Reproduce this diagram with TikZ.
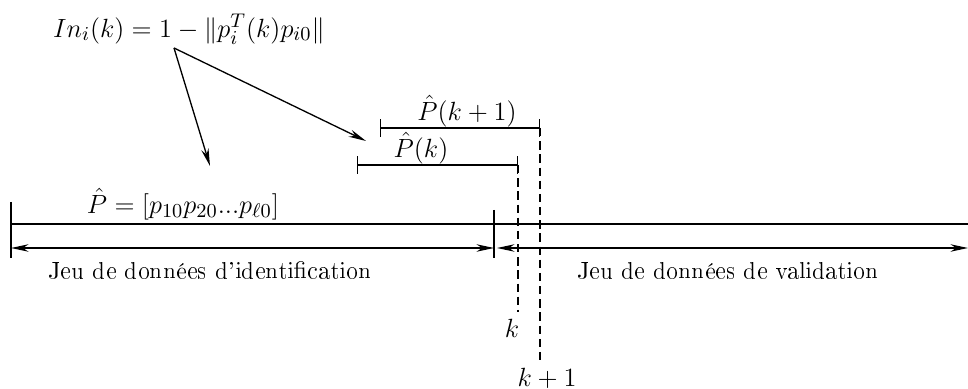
\documentclass[tikz,border=0pt]{standalone}
\usepackage[T1]{fontenc}
\usetikzlibrary{arrows.meta}

\begin{document}
\begin{tikzpicture}[x=0.016cm, y=-0.016cm,
  every node/.style={font=\fontsize{11.2}{13}\selectfont, inner sep=1pt},
  formule/.style={font=\fontsize{12.4}{14}\selectfont},
  pointe/.tip={Stealth[length=8pt,width=3.4pt]},
  fleche/.style={-pointe, line width=0.6pt},
  double/.style={pointe-pointe, line width=0.6pt},
  borne/.style={{Bar[width=8pt]}-{Bar[width=8pt]}, line width=0.6pt},
  repere/.style={line width=0.6pt, dash pattern=on 3.8pt off 2.2pt}]

\useasboundingbox (0,0) rectangle (968,389);

% Axe des données
\coordinate (deb)  at (11,224);
\coordinate (sep)  at (494,224);
\coordinate (fin)  at (968,224);
\draw[line width=1.2pt] (deb) -- (fin);
\draw[line width=0.9pt] (11,202) -- (11,258);
\draw[line width=0.9pt] (494,210) -- (494,258);

% Flèches des deux jeux
\coordinate (ia) at (11,248);
\coordinate (ib) at (494,248);
\coordinate (va) at (497,248);
\coordinate (vb) at (968,248);
\draw[double] (ia) -- (ib);
\draw[double] (va) -- (vb);

\node (ident) at (210,270) {Jeu de donn\'ees d'identification};
\node (valid) at (728,270) {Jeu de donn\'ees de validation};

% Fenetres glissantes
\coordinate (pka)  at (357,165);
\coordinate (pkb)  at (518,165);
\coordinate (pk1a) at (380,128);
\coordinate (pk1b) at (540,128);
\draw[borne] (pka) -- (pkb);
\draw[borne] (pk1a) -- (pk1b);
\node[formule] (lpk)  at (421,148) {$\hat{P}(k)$};
\node[formule] (lpk1) at (467,111) {$\hat{P}(k+1)$};

% Instants k et k+1
\coordinate (kbas)  at (518,312);
\coordinate (k1bas) at (540,365);
\draw[repere] (pkb) -- (kbas);
\draw[repere] (pk1b) -- (k1bas);
\node[formule] (lk)  at (512,328) {$k$};
\node[formule] (lk1) at (547,378) {$k+1$};

% Indicateur
\node[formule] (ref) at (183,204) {$\hat{P}=[p_{10}p_{20}...p_{\ell 0}]$};
\node[formule] (ind) at (189,29) {$In_i(k)=1-\|p_i^T(k)p_{i0}\|$};
\coordinate (src) at (174,48);
\draw[fleche] (src) -- (210,166);
\draw[fleche] (src) -- (366,141);

\end{tikzpicture}
\end{document}
